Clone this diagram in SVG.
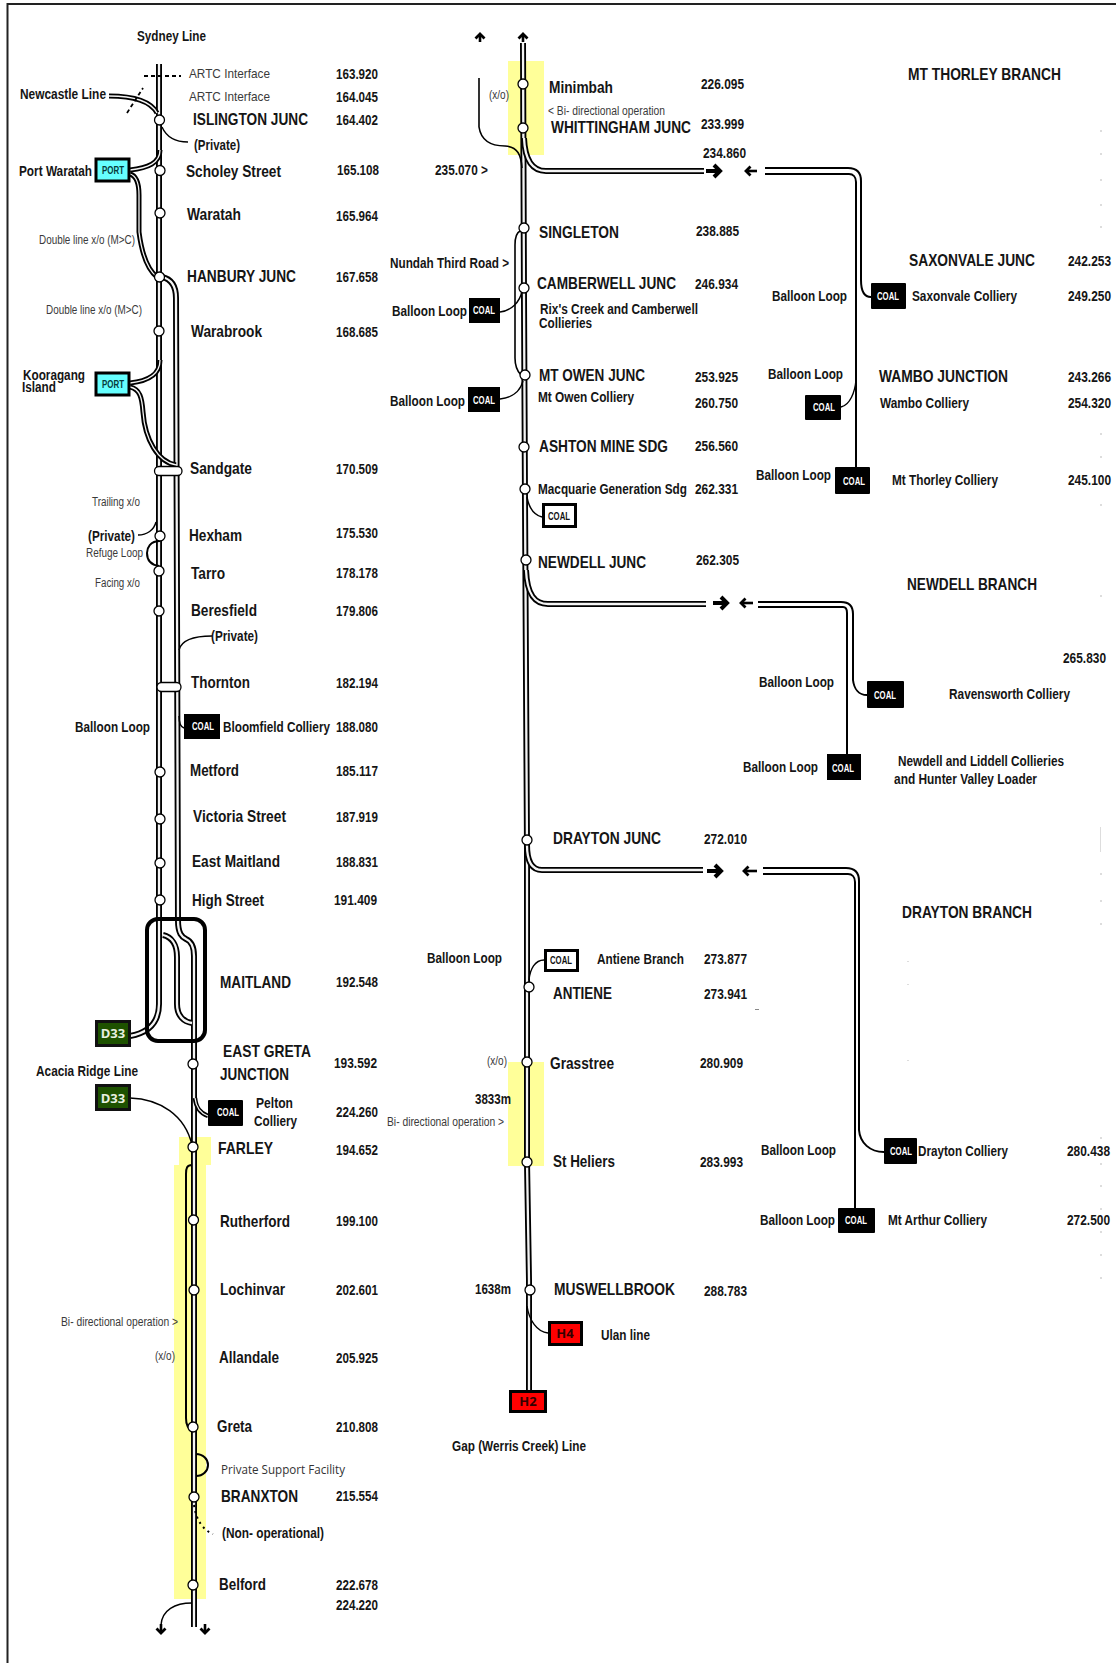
<svg xmlns="http://www.w3.org/2000/svg" width="1116" height="1663" viewBox="0 0 1116 1663">
<style>
text{font-family:"Liberation Sans Narrow","Liberation Sans",Arial,sans-serif;fill:#151515}
.s{font-size:17px;font-weight:700}
.m{font-size:14.5px;font-weight:700}
.k{font-size:14.5px;font-weight:700}
.r{font-size:12.5px;fill:#3a3a3a}
.a{font-size:13.5px;fill:#3a3a3a}
.c{font-size:10px;font-weight:700;fill:#fff;text-anchor:middle}
.cd{font-size:10px;font-weight:700;fill:#111;text-anchor:middle}
.p{font-size:10px;font-weight:700;fill:#063a3a;text-anchor:middle}
.d{font-family:"Open Sans","Noto Sans",sans-serif;font-size:13px;font-weight:700;fill:#e8f0e0;text-anchor:middle}
.h{font-family:"Open Sans","Noto Sans",sans-serif;font-size:13px;font-weight:700;fill:#300;text-anchor:middle}
.o{fill:none;stroke:#000;stroke-width:6}
.i{fill:none;stroke:#f4f4f4;stroke-width:2.3}
.n{fill:none;stroke:#f4f4f4;stroke-width:1.3}
.t{fill:none;stroke:#000;stroke-width:1.4}
.u{fill:none;stroke:#000;stroke-width:2}
.st{fill:#fff;stroke:#000;stroke-width:1.3}
.coal{fill:#000}
.wc{fill:#fff;stroke:#000;stroke-width:3}
.port{fill:#66ffff;stroke:#000;stroke-width:3}
.gr{fill:#1e5200;stroke:#111;stroke-width:3}
.red{fill:#f00;stroke:#000;stroke-width:3}
.y{fill:#ffff99}
.f{fill:#ddd}
.ah{fill:none;stroke:#000;stroke-width:4}
.as{fill:none;stroke:#000;stroke-width:2.6}
</style>
<defs>
<marker id="mb" markerUnits="userSpaceOnUse" markerWidth="16" markerHeight="16" refX="8" refY="8" orient="auto"><path d="M2 2L8 8L2 14" fill="none" stroke="#000" stroke-width="4"/></marker>
<marker id="ms" markerUnits="userSpaceOnUse" markerWidth="14" markerHeight="14" refX="7" refY="7" orient="auto"><path d="M2.500 2.500L7 7L2.500 11.500" fill="none" stroke="#000" stroke-width="2.800"/></marker>
</defs>
<rect width="1116" height="1663" fill="#fff"/>
<path d="M7.5 1663V4H1116" fill="none" stroke="#222" stroke-width="2"/>
<g id="highlights">
<rect class="y" x="179" y="1137" width="32" height="28"/>
<rect class="y" x="174" y="1165" width="32" height="434"/>
<rect class="y" x="508" y="61" width="36" height="94"/>
<rect class="y" x="508" y="1062" width="36" height="104"/>
</g>
<g id="specks">
<rect class="f" x="1100" y="130" width="2" height="2"/><rect class="f" x="1100" y="153" width="2" height="2"/><rect class="f" x="1100" y="179" width="2" height="2"/><rect class="f" x="1100" y="204" width="2" height="2"/><rect class="f" x="1100" y="226" width="2" height="2"/><rect class="f" x="1100" y="433" width="2" height="2"/><rect class="f" x="1100" y="456" width="2" height="2"/><rect class="f" x="1100" y="504" width="2" height="2"/><rect class="f" x="1100" y="595" width="2" height="2"/><rect class="f" x="1100" y="827" width="1" height="25"/><rect class="f" x="1100" y="873" width="2" height="2"/><rect class="f" x="1100" y="900" width="2" height="2"/><rect class="f" x="1100" y="923" width="2" height="2"/><rect class="f" x="907" y="961" width="2" height="1"/><rect class="f" x="907" y="984" width="2" height="1"/><rect class="f" x="907" y="1060" width="2" height="1"/><rect fill="#888" x="755" y="1009" width="4" height="1"/><rect class="f" x="1100" y="1137" width="2" height="2"/><rect class="f" x="1100" y="1163" width="2" height="2"/><rect class="f" x="1100" y="1185" width="2" height="2"/><rect class="f" x="1100" y="1208" width="2" height="2"/><rect class="f" x="1100" y="1231" width="2" height="2"/><rect class="f" x="1100" y="1254" width="2" height="2"/><rect class="f" x="1100" y="1277" width="2" height="2"/>
</g>
<g id="connectors">
<path class="o" d="M159 64V1004C159 1024 147 1033 130 1036"/><path class="i" d="M159 64V1004C159 1024 147 1033 130 1036"/>
<path class="o" d="M162 277C171 279 176 286 176 298L178 920C178 934 182 937 186 939C191 941 194 946 194 956V1627"/><path class="i" d="M162 277C171 279 176 286 176 298L178 920C178 934 182 937 186 939C191 941 194 946 194 956V1627"/>
<path class="o" d="M163 935C172 937 177 945 177 957V1004C177 1016 184 1022 192 1023"/><path class="i" d="M163 935C172 937 177 945 177 957V1004C177 1016 184 1022 192 1023"/>
<path class="o" d="M109 96C130 96 150 100 157 113" style="stroke-width:5"/><path class="n" d="M109 96C130 96 150 100 157 113"/>
<path class="o" d="M130 170C148 168 160 163 160 150" style="stroke-width:5"/><path class="n" d="M130 170C148 168 160 163 160 150"/>
<path class="o" d="M130 174C137 176 139 184 139 195V232C142 255 148 270 157 277" style="stroke-width:5"/><path class="n" d="M130 174C137 176 139 184 139 195V232C142 255 148 270 157 277"/>
<path class="o" d="M130 383C148 381 160 375 160 360" style="stroke-width:5"/><path class="n" d="M130 383C148 381 160 375 160 360"/>
<path class="o" d="M130 387C140 389 142 398 143 412C145 440 158 462 176 465" style="stroke-width:5"/><path class="n" d="M130 387C140 389 142 398 143 412C145 440 158 462 176 465"/>
<path class="o" d="M195 1098C196 1108 200 1113 208 1116" style="stroke-width:4.500"/><path class="n" d="M195 1098C196 1108 200 1113 208 1116"/>
<path class="t" d="M144 76H181" stroke-dasharray="4 3" style="stroke-width:1.8"/>
<path class="t" d="M127 113L143 88" stroke-dasharray="4 3" style="stroke-width:1.8"/>
<path class="t" d="M162 127C166 136 175 142 188 142"/>
<path class="t" d="M156 522C154 530 147 535 138 535"/>
<path class="u" d="M160 541C150 541 147 548 147 553C147 561 152 565 159 566"/>
<path class="t" d="M179 650C181 642 190 636 212 636"/>
<path class="t" d="M179 716C179 723 181 727 184 728"/>
<path class="t" d="M130 1098C160 1099 185 1115 192 1145"/>
<path class="u" d="M192 1165C187 1165 186 1168 186 1174V1418C186 1425 189 1429 192 1430"/>
<path class="u" d="M196 1454C203 1454 208 1459 208 1465C208 1471 203 1476 196 1476"/>
<path class="u" d="M194 1505C196 1520 203 1530 213 1534" stroke-dasharray="2 4"/>
<path class="t" d="M192 1603C175 1603 162 1610 161 1625"/>
<path class="as" d="M161 1624V1633" marker-end="url(#ms)"/>
<path class="as" d="M205 1624V1633" marker-end="url(#ms)"/>
<path class="o" d="M523 43L524 300L525 500L527 850V1162L529 1280V1391"/><path class="i" d="M523 43L524 300L525 500L527 850V1162L529 1280V1391"/>
<path class="o" d="M524 138C525 162 534 171 546 171H704"/><path class="i" d="M524 138C525 162 534 171 546 171H704"/>
<path class="o" d="M526 570C527 595 535 604 548 604H706"/><path class="i" d="M526 570C527 595 535 604 548 604H706"/>
<path class="o" d="M527 845C527 862 532 870 542 870H703"/><path class="i" d="M527 845C527 862 532 870 542 870H703"/>
<path class="u" d="M479 78V127C481 140 490 146 505 146C518 147 521 155 522 168" style="stroke-width:1.6"/>
<path class="t" d="M520 231C516 233 515 238 515 245V358C515 366 518 372 521 375" style="stroke-width:1.6"/>
<path class="t" d="M500 312C511 311 520 302 522 291"/>
<path class="t" d="M500 399C511 398 520 392 523 381"/>
<path class="t" d="M527 497C529 508 534 515 542 517"/>
<path class="t" d="M529 980C530 969 535 960 544 960"/>
<path class="t" d="M527 1306C529 1320 537 1332 548 1333"/>
<path class="as" d="M480 42V34" marker-end="url(#ms)"/>
<path class="as" d="M523 42V34" marker-end="url(#ms)"/>
<path class="ah" d="M706 171H720" marker-end="url(#mb)"/>
<path class="as" d="M757 171H746" marker-end="url(#ms)"/>
<path class="ah" d="M713 603H727" marker-end="url(#mb)"/>
<path class="as" d="M753 603H741" marker-end="url(#ms)"/>
<path class="ah" d="M707 871H721" marker-end="url(#mb)"/>
<path class="as" d="M757 871H744" marker-end="url(#ms)"/>
<path class="u" d="M765 168H848C857 168 861 172 861 181V280C861 291 864 297 871 297"/>
<path class="u" d="M765 174H849C853 174 856 177 856 182V467"/>
<path class="t" d="M841 407C850 405 855 392 856 380"/>
<path class="u" d="M758 602H841C849 602 853 606 853 614V680C854 689 859 695 867 695"/>
<path class="u" d="M758 607H843C846 607 847 610 847 613V754"/>
<path class="u" d="M763 868H846C855 868 859 872 859 881V1130C860 1143 870 1152 884 1152"/>
<path class="u" d="M763 874H848C852 874 855 877 855 882V1208"/>
</g>
<g id="sydney-line"><text class="m" x="137" y="41" textLength="69" lengthAdjust="spacingAndGlyphs">Sydney Line</text></g>
<g id="artc-1"><text class="a" x="189" y="78" textLength="81" lengthAdjust="spacingAndGlyphs">ARTC Interface</text><text class="k" x="336" y="79" textLength="42" lengthAdjust="spacingAndGlyphs">163.920</text></g>
<g id="artc-2"><text class="a" x="189" y="101" textLength="81" lengthAdjust="spacingAndGlyphs">ARTC Interface</text><text class="k" x="336" y="102" textLength="42" lengthAdjust="spacingAndGlyphs">164.045</text></g>
<g id="newcastle-line"><text class="m" x="20" y="99" textLength="86" lengthAdjust="spacingAndGlyphs">Newcastle Line</text></g>
<g id="islington"><circle class="st" cx="159.5" cy="120" r="5"/><text class="s" x="193" y="125" textLength="115" lengthAdjust="spacingAndGlyphs">ISLINGTON JUNC</text><text class="k" x="336" y="125" textLength="42" lengthAdjust="spacingAndGlyphs">164.402</text></g>
<g id="private-1"><text class="m" x="194" y="150" textLength="46" lengthAdjust="spacingAndGlyphs">(Private)</text></g>
<g id="port-waratah"><rect class="port" x="96" y="159" width="33" height="22"/><text class="p" x="113" y="174" textLength="22" lengthAdjust="spacingAndGlyphs">PORT</text><text class="m" x="19" y="176" textLength="73" lengthAdjust="spacingAndGlyphs">Port Waratah</text></g>
<g id="scholey"><circle class="st" cx="160" cy="170.500" r="5"/><text class="s" x="186" y="177" textLength="95" lengthAdjust="spacingAndGlyphs">Scholey Street</text><text class="k" x="337" y="175" textLength="42" lengthAdjust="spacingAndGlyphs">165.108</text></g>
<g id="waratah"><circle class="st" cx="160" cy="213" r="5"/><text class="s" x="187" y="220" textLength="54" lengthAdjust="spacingAndGlyphs">Waratah</text><text class="k" x="336" y="221" textLength="42" lengthAdjust="spacingAndGlyphs">165.964</text></g>
<text class="r" x="39" y="244" textLength="96" lengthAdjust="spacingAndGlyphs">Double line x/o (M&gt;C)</text>
<g id="hanbury"><circle class="st" cx="159.500" cy="277" r="5"/><text class="s" x="187" y="282" textLength="109" lengthAdjust="spacingAndGlyphs">HANBURY JUNC</text><text class="k" x="336" y="282" textLength="42" lengthAdjust="spacingAndGlyphs">167.658</text></g>
<text class="r" x="46" y="314" textLength="96" lengthAdjust="spacingAndGlyphs">Double line x/o (M&gt;C)</text>
<g id="warabrook"><circle class="st" cx="159" cy="331" r="5"/><text class="s" x="191" y="337" textLength="71" lengthAdjust="spacingAndGlyphs">Warabrook</text><text class="k" x="336" y="337" textLength="42" lengthAdjust="spacingAndGlyphs">168.685</text></g>
<g id="kooragang"><rect class="port" x="96" y="373" width="33" height="22"/><text class="p" x="113" y="388" textLength="22" lengthAdjust="spacingAndGlyphs">PORT</text><text class="m" x="23" y="380" textLength="62" lengthAdjust="spacingAndGlyphs">Kooragang</text><text class="m" x="22" y="392" textLength="34" lengthAdjust="spacingAndGlyphs">Island</text></g>
<g id="sandgate"><rect class="st" x="154.500" y="466.500" width="27.500" height="9" rx="4.500"/><text class="s" x="190" y="474" textLength="62" lengthAdjust="spacingAndGlyphs">Sandgate</text><text class="k" x="336" y="474" textLength="42" lengthAdjust="spacingAndGlyphs">170.509</text></g>
<text class="r" x="92" y="506" textLength="48" lengthAdjust="spacingAndGlyphs">Trailing x/o</text>
<text class="m" x="88" y="541" textLength="47" lengthAdjust="spacingAndGlyphs">(Private)</text>
<text class="r" x="86" y="557" textLength="57" lengthAdjust="spacingAndGlyphs">Refuge Loop</text>
<text class="r" x="95" y="587" textLength="45" lengthAdjust="spacingAndGlyphs">Facing x/o</text>
<g id="hexham"><circle class="st" cx="160" cy="536" r="5"/><text class="s" x="189" y="541" textLength="53" lengthAdjust="spacingAndGlyphs">Hexham</text><text class="k" x="336" y="538" textLength="42" lengthAdjust="spacingAndGlyphs">175.530</text></g>
<g id="tarro"><circle class="st" cx="159" cy="571" r="5"/><text class="s" x="191" y="579" textLength="34" lengthAdjust="spacingAndGlyphs">Tarro</text><text class="k" x="336" y="578" textLength="42" lengthAdjust="spacingAndGlyphs">178.178</text></g>
<g id="beresfield"><circle class="st" cx="159" cy="611" r="5"/><text class="s" x="191" y="616" textLength="66" lengthAdjust="spacingAndGlyphs">Beresfield</text><text class="k" x="336" y="616" textLength="42" lengthAdjust="spacingAndGlyphs">179.806</text></g>
<text class="m" x="211" y="641" textLength="47" lengthAdjust="spacingAndGlyphs">(Private)</text>
<g id="thornton"><rect class="st" x="157" y="682.500" width="24" height="9" rx="4.500"/><text class="s" x="191" y="688" textLength="59" lengthAdjust="spacingAndGlyphs">Thornton</text><text class="k" x="336" y="688" textLength="42" lengthAdjust="spacingAndGlyphs">182.194</text></g>
<g id="bloomfield"><rect class="coal" x="184" y="714" width="36" height="25"/><text class="c" x="203" y="730" textLength="22" lengthAdjust="spacingAndGlyphs">COAL</text><text class="m" x="75" y="732" textLength="75" lengthAdjust="spacingAndGlyphs">Balloon Loop</text><text class="m" x="223" y="732" textLength="107" lengthAdjust="spacingAndGlyphs">Bloomfield Colliery</text><text class="k" x="336" y="732" textLength="42" lengthAdjust="spacingAndGlyphs">188.080</text></g>
<g id="metford"><circle class="st" cx="160" cy="772" r="5"/><text class="s" x="190" y="776" textLength="49" lengthAdjust="spacingAndGlyphs">Metford</text><text class="k" x="336" y="776" textLength="42" lengthAdjust="spacingAndGlyphs">185.117</text></g>
<g id="victoria"><circle class="st" cx="160" cy="819" r="5"/><text class="s" x="193" y="822" textLength="93" lengthAdjust="spacingAndGlyphs">Victoria Street</text><text class="k" x="336" y="822" textLength="42" lengthAdjust="spacingAndGlyphs">187.919</text></g>
<g id="east-maitland"><circle class="st" cx="160" cy="863" r="5"/><text class="s" x="192" y="867" textLength="88" lengthAdjust="spacingAndGlyphs">East Maitland</text><text class="k" x="336" y="867" textLength="42" lengthAdjust="spacingAndGlyphs">188.831</text></g>
<g id="high-street"><circle class="st" cx="160" cy="900" r="5"/><text class="s" x="192" y="906" textLength="72" lengthAdjust="spacingAndGlyphs">High Street</text><text class="k" x="334" y="905" textLength="43" lengthAdjust="spacingAndGlyphs">191.409</text></g>
<g id="maitland"><rect x="147" y="919" width="58" height="122" rx="11" fill="none" stroke="#000" stroke-width="4"/><text class="s" x="220" y="988" textLength="71" lengthAdjust="spacingAndGlyphs">MAITLAND</text><text class="k" x="336" y="987" textLength="42" lengthAdjust="spacingAndGlyphs">192.548</text></g>
<g id="d33-a"><rect class="gr" x="96.500" y="1021.500" width="33" height="24"/><text class="d" x="113" y="1038">D33</text></g>
<g id="east-greta"><circle class="st" cx="193" cy="1064" r="5"/><text class="s" x="223" y="1057" textLength="88" lengthAdjust="spacingAndGlyphs">EAST GRETA</text><text class="s" x="220" y="1080" textLength="69" lengthAdjust="spacingAndGlyphs">JUNCTION</text><text class="k" x="334" y="1068" textLength="43" lengthAdjust="spacingAndGlyphs">193.592</text></g>
<g id="d33-b"><rect class="gr" x="96.500" y="1085.500" width="33" height="24"/><text class="d" x="113" y="1103">D33</text><text class="m" x="36" y="1076" textLength="102" lengthAdjust="spacingAndGlyphs">Acacia Ridge Line</text></g>
<g id="pelton"><rect class="coal" x="208" y="1100" width="35" height="26" rx="1"/><text class="c" x="228" y="1116" textLength="22" lengthAdjust="spacingAndGlyphs">COAL</text><text class="m" x="256" y="1108" textLength="37" lengthAdjust="spacingAndGlyphs">Pelton</text><text class="m" x="254" y="1126" textLength="43" lengthAdjust="spacingAndGlyphs">Colliery</text><text class="k" x="336" y="1117" textLength="42" lengthAdjust="spacingAndGlyphs">224.260</text></g>
<g id="farley"><circle class="st" cx="193" cy="1147" r="5"/><text class="s" x="218" y="1154" textLength="55" lengthAdjust="spacingAndGlyphs">FARLEY</text><text class="k" x="336" y="1155" textLength="42" lengthAdjust="spacingAndGlyphs">194.652</text></g>
<g id="rutherford"><circle class="st" cx="193.500" cy="1220" r="5"/><text class="s" x="220" y="1227" textLength="70" lengthAdjust="spacingAndGlyphs">Rutherford</text><text class="k" x="336" y="1226" textLength="42" lengthAdjust="spacingAndGlyphs">199.100</text></g>
<g id="lochinvar"><circle class="st" cx="194" cy="1290" r="5"/><text class="s" x="220" y="1295" textLength="65" lengthAdjust="spacingAndGlyphs">Lochinvar</text><text class="k" x="336" y="1295" textLength="42" lengthAdjust="spacingAndGlyphs">202.601</text></g>
<text class="r" x="61" y="1326" textLength="117" lengthAdjust="spacingAndGlyphs">Bi-  directional operation &gt;</text>
<text class="r" x="155" y="1360" textLength="20" lengthAdjust="spacingAndGlyphs">(x/o)</text>
<g id="allandale"><text class="s" x="219" y="1363" textLength="60" lengthAdjust="spacingAndGlyphs">Allandale</text><text class="k" x="336" y="1363" textLength="42" lengthAdjust="spacingAndGlyphs">205.925</text></g>
<g id="greta"><circle class="st" cx="193" cy="1427" r="5"/><text class="s" x="217" y="1432" textLength="35" lengthAdjust="spacingAndGlyphs">Greta</text><text class="k" x="336" y="1432" textLength="42" lengthAdjust="spacingAndGlyphs">210.808</text></g>
<text x="221" y="1474" textLength="124" lengthAdjust="spacingAndGlyphs" style="font-family:'Open Sans','Noto Sans',sans-serif;font-size:12px;fill:#333">Private Support Facility</text>
<g id="branxton"><circle class="st" cx="194" cy="1497" r="5"/><text class="s" x="221" y="1502" textLength="77" lengthAdjust="spacingAndGlyphs">BRANXTON</text><text class="k" x="336" y="1501" textLength="42" lengthAdjust="spacingAndGlyphs">215.554</text></g>
<text class="m" x="222" y="1538" textLength="102" lengthAdjust="spacingAndGlyphs">(Non- operational)</text>
<g id="belford"><circle class="st" cx="193" cy="1585" r="5"/><text class="s" x="219" y="1590" textLength="47" lengthAdjust="spacingAndGlyphs">Belford</text><text class="k" x="336" y="1590" textLength="42" lengthAdjust="spacingAndGlyphs">222.678</text><text class="k" x="336" y="1610" textLength="42" lengthAdjust="spacingAndGlyphs">224.220</text></g>
<g id="minimbah"><circle class="st" cx="523" cy="84" r="5"/><text class="s" x="549" y="93" textLength="64" lengthAdjust="spacingAndGlyphs">Minimbah</text><text class="k" x="701" y="89" textLength="43" lengthAdjust="spacingAndGlyphs">226.095</text></g>
<text class="r" x="489" y="99" textLength="20" lengthAdjust="spacingAndGlyphs">(x/o)</text>
<text class="r" x="548" y="115" textLength="117" lengthAdjust="spacingAndGlyphs">&lt; Bi-  directional operation</text>
<g id="whittingham"><circle class="st" cx="523" cy="128" r="5"/><text class="s" x="551" y="133" textLength="140" lengthAdjust="spacingAndGlyphs">WHITTINGHAM JUNC</text><text class="k" x="701" y="129" textLength="43" lengthAdjust="spacingAndGlyphs">233.999</text></g>
<text class="k" x="703" y="158" textLength="43" lengthAdjust="spacingAndGlyphs">234.860</text>
<text class="k" x="435" y="175" textLength="53" lengthAdjust="spacingAndGlyphs">235.070 &gt;</text>
<g id="singleton"><circle class="st" cx="524" cy="228" r="5"/><text class="s" x="539" y="238" textLength="80" lengthAdjust="spacingAndGlyphs">SINGLETON</text><text class="k" x="696" y="236" textLength="43" lengthAdjust="spacingAndGlyphs">238.885</text></g>
<text class="m" x="390" y="268" textLength="119" lengthAdjust="spacingAndGlyphs">Nundah Third Road &gt;</text>
<g id="camberwell"><circle class="st" cx="524" cy="288" r="5"/><rect class="coal" x="469" y="298" width="31" height="25"/><text class="c" x="484" y="314" textLength="22" lengthAdjust="spacingAndGlyphs">COAL</text><text class="m" x="392" y="316" textLength="75" lengthAdjust="spacingAndGlyphs">Balloon Loop</text><text class="s" x="537" y="289" textLength="139" lengthAdjust="spacingAndGlyphs">CAMBERWELL JUNC</text><text class="k" x="695" y="289" textLength="43" lengthAdjust="spacingAndGlyphs">246.934</text><text class="m" x="540" y="314" textLength="158" lengthAdjust="spacingAndGlyphs">Rix's Creek and Camberwell</text><text class="m" x="539" y="328" textLength="53" lengthAdjust="spacingAndGlyphs">Collieries</text></g>
<g id="mt-owen"><circle class="st" cx="525" cy="375" r="5"/><rect class="coal" x="468" y="387" width="32" height="25"/><text class="c" x="484" y="404" textLength="22" lengthAdjust="spacingAndGlyphs">COAL</text><text class="m" x="390" y="406" textLength="75" lengthAdjust="spacingAndGlyphs">Balloon Loop</text><text class="s" x="539" y="381" textLength="106" lengthAdjust="spacingAndGlyphs">MT OWEN JUNC</text><text class="k" x="695" y="382" textLength="43" lengthAdjust="spacingAndGlyphs">253.925</text><text class="m" x="538" y="402" textLength="96" lengthAdjust="spacingAndGlyphs">Mt Owen Colliery</text><text class="k" x="695" y="408" textLength="43" lengthAdjust="spacingAndGlyphs">260.750</text></g>
<g id="ashton"><circle class="st" cx="524" cy="447" r="5"/><text class="s" x="539" y="452" textLength="129" lengthAdjust="spacingAndGlyphs">ASHTON MINE SDG</text><text class="k" x="695" y="451" textLength="43" lengthAdjust="spacingAndGlyphs">256.560</text></g>
<g id="macquarie"><circle class="st" cx="525" cy="489" r="5"/><rect class="wc" x="543.500" y="504.500" width="32" height="22"/><text class="cd" x="559" y="520" textLength="22" lengthAdjust="spacingAndGlyphs">COAL</text><text class="m" x="538" y="494" textLength="149" lengthAdjust="spacingAndGlyphs">Macquarie Generation Sdg</text><text class="k" x="695" y="494" textLength="43" lengthAdjust="spacingAndGlyphs">262.331</text></g>
<g id="newdell-junc"><circle class="st" cx="526" cy="560" r="5"/><text class="s" x="538" y="568" textLength="108" lengthAdjust="spacingAndGlyphs">NEWDELL JUNC</text><text class="k" x="696" y="565" textLength="43" lengthAdjust="spacingAndGlyphs">262.305</text></g>
<g id="drayton-junc"><circle class="st" cx="527" cy="840" r="5"/><text class="s" x="553" y="844" textLength="108" lengthAdjust="spacingAndGlyphs">DRAYTON JUNC</text><text class="k" x="704" y="844" textLength="43" lengthAdjust="spacingAndGlyphs">272.010</text></g>
<g id="antiene-branch"><rect class="wc" x="545.500" y="950.500" width="32" height="20"/><text class="cd" x="561" y="964" textLength="22" lengthAdjust="spacingAndGlyphs">COAL</text><text class="m" x="427" y="963" textLength="75" lengthAdjust="spacingAndGlyphs">Balloon Loop</text><text class="m" x="597" y="964" textLength="87" lengthAdjust="spacingAndGlyphs">Antiene Branch</text><text class="k" x="704" y="964" textLength="43" lengthAdjust="spacingAndGlyphs">273.877</text></g>
<g id="antiene"><circle class="st" cx="529" cy="987" r="5"/><text class="s" x="553" y="999" textLength="59" lengthAdjust="spacingAndGlyphs">ANTIENE</text><text class="k" x="704" y="999" textLength="43" lengthAdjust="spacingAndGlyphs">273.941</text></g>
<text class="r" x="487" y="1065" textLength="20" lengthAdjust="spacingAndGlyphs">(x/o)</text>
<g id="grasstree"><circle class="st" cx="527" cy="1062" r="5"/><text class="s" x="550" y="1069" textLength="64" lengthAdjust="spacingAndGlyphs">Grasstree</text><text class="k" x="700" y="1068" textLength="43" lengthAdjust="spacingAndGlyphs">280.909</text></g>
<text class="m" x="475" y="1104" textLength="36" lengthAdjust="spacingAndGlyphs">3833m</text>
<text class="r" x="387" y="1126" textLength="117" lengthAdjust="spacingAndGlyphs">Bi-  directional operation &gt;</text>
<g id="st-heliers"><circle class="st" cx="527" cy="1162" r="5"/><text class="s" x="553" y="1167" textLength="62" lengthAdjust="spacingAndGlyphs">St Heliers</text><text class="k" x="700" y="1167" textLength="43" lengthAdjust="spacingAndGlyphs">283.993</text></g>
<g id="muswellbrook"><circle class="st" cx="530" cy="1290" r="5"/><text class="m" x="475" y="1294" textLength="36" lengthAdjust="spacingAndGlyphs">1638m</text><text class="s" x="554" y="1295" textLength="121" lengthAdjust="spacingAndGlyphs">MUSWELLBROOK</text><text class="k" x="704" y="1296" textLength="43" lengthAdjust="spacingAndGlyphs">288.783</text></g>
<g id="h4"><rect class="red" x="549.500" y="1322.500" width="32" height="22"/><text class="h" x="565" y="1338">H4</text><text class="m" x="601" y="1340" textLength="49" lengthAdjust="spacingAndGlyphs">Ulan line</text></g>
<g id="h2"><rect class="red" x="510.500" y="1391.500" width="35" height="20"/><text class="h" x="528" y="1406">H2</text><text class="m" x="452" y="1451" textLength="134" lengthAdjust="spacingAndGlyphs">Gap (Werris Creek) Line</text></g>
<text class="s" x="908" y="80" textLength="153" lengthAdjust="spacingAndGlyphs">MT THORLEY BRANCH</text>
<text class="s" x="909" y="266" textLength="126" lengthAdjust="spacingAndGlyphs">SAXONVALE JUNC</text><text class="k" x="1068" y="266" textLength="43" lengthAdjust="spacingAndGlyphs">242.253</text>
<g id="saxonvale"><rect class="coal" x="871" y="283" width="35" height="26" rx="1"/><text class="c" x="888" y="300" textLength="22" lengthAdjust="spacingAndGlyphs">COAL</text><text class="m" x="772" y="301" textLength="75" lengthAdjust="spacingAndGlyphs">Balloon Loop</text><text class="m" x="912" y="301" textLength="105" lengthAdjust="spacingAndGlyphs">Saxonvale Colliery</text><text class="k" x="1068" y="301" textLength="43" lengthAdjust="spacingAndGlyphs">249.250</text></g>
<text class="s" x="879" y="382" textLength="129" lengthAdjust="spacingAndGlyphs">WAMBO JUNCTION</text><text class="k" x="1068" y="382" textLength="43" lengthAdjust="spacingAndGlyphs">243.266</text>
<g id="wambo"><rect class="coal" x="805" y="395" width="36" height="25" rx="1"/><text class="c" x="824" y="411" textLength="22" lengthAdjust="spacingAndGlyphs">COAL</text><text class="m" x="768" y="379" textLength="75" lengthAdjust="spacingAndGlyphs">Balloon Loop</text><text class="m" x="880" y="408" textLength="89" lengthAdjust="spacingAndGlyphs">Wambo Colliery</text><text class="k" x="1068" y="408" textLength="43" lengthAdjust="spacingAndGlyphs">254.320</text></g>
<g id="mt-thorley"><rect class="coal" x="835" y="467" width="35" height="27" rx="1"/><text class="c" x="854" y="485" textLength="22" lengthAdjust="spacingAndGlyphs">COAL</text><text class="m" x="756" y="480" textLength="75" lengthAdjust="spacingAndGlyphs">Balloon Loop</text><text class="m" x="892" y="485" textLength="106" lengthAdjust="spacingAndGlyphs">Mt Thorley Colliery</text><text class="k" x="1068" y="485" textLength="43" lengthAdjust="spacingAndGlyphs">245.100</text></g>
<text class="s" x="907" y="590" textLength="130" lengthAdjust="spacingAndGlyphs">NEWDELL BRANCH</text>
<g id="ravensworth"><rect class="coal" x="867" y="681" width="37" height="27" rx="1"/><text class="c" x="885" y="699" textLength="22" lengthAdjust="spacingAndGlyphs">COAL</text><text class="m" x="759" y="687" textLength="75" lengthAdjust="spacingAndGlyphs">Balloon Loop</text><text class="m" x="949" y="699" textLength="121" lengthAdjust="spacingAndGlyphs">Ravensworth Colliery</text><text class="k" x="1063" y="663" textLength="43" lengthAdjust="spacingAndGlyphs">265.830</text></g>
<g id="newdell-liddell"><rect class="coal" x="827" y="754" width="34" height="26"/><text class="c" x="843" y="772" textLength="22" lengthAdjust="spacingAndGlyphs">COAL</text><text class="m" x="743" y="772" textLength="75" lengthAdjust="spacingAndGlyphs">Balloon Loop</text><text class="m" x="898" y="766" textLength="166" lengthAdjust="spacingAndGlyphs">Newdell and Liddell Collieries</text><text class="m" x="894" y="784" textLength="143" lengthAdjust="spacingAndGlyphs">and Hunter Valley Loader</text></g>
<text class="s" x="902" y="918" textLength="130" lengthAdjust="spacingAndGlyphs">DRAYTON BRANCH</text>
<g id="drayton"><rect class="coal" x="884" y="1138" width="33" height="26" rx="1"/><text class="c" x="901" y="1155" textLength="22" lengthAdjust="spacingAndGlyphs">COAL</text><text class="m" x="761" y="1155" textLength="75" lengthAdjust="spacingAndGlyphs">Balloon Loop</text><text class="m" x="918" y="1156" textLength="90" lengthAdjust="spacingAndGlyphs">Drayton Colliery</text><text class="k" x="1067" y="1156" textLength="43" lengthAdjust="spacingAndGlyphs">280.438</text></g>
<g id="mt-arthur"><rect class="coal" x="838" y="1208" width="37" height="25" rx="1"/><text class="c" x="856" y="1224" textLength="22" lengthAdjust="spacingAndGlyphs">COAL</text><text class="m" x="760" y="1225" textLength="75" lengthAdjust="spacingAndGlyphs">Balloon Loop</text><text class="m" x="888" y="1225" textLength="99" lengthAdjust="spacingAndGlyphs">Mt Arthur Colliery</text><text class="k" x="1067" y="1225" textLength="43" lengthAdjust="spacingAndGlyphs">272.500</text></g>
</svg>
